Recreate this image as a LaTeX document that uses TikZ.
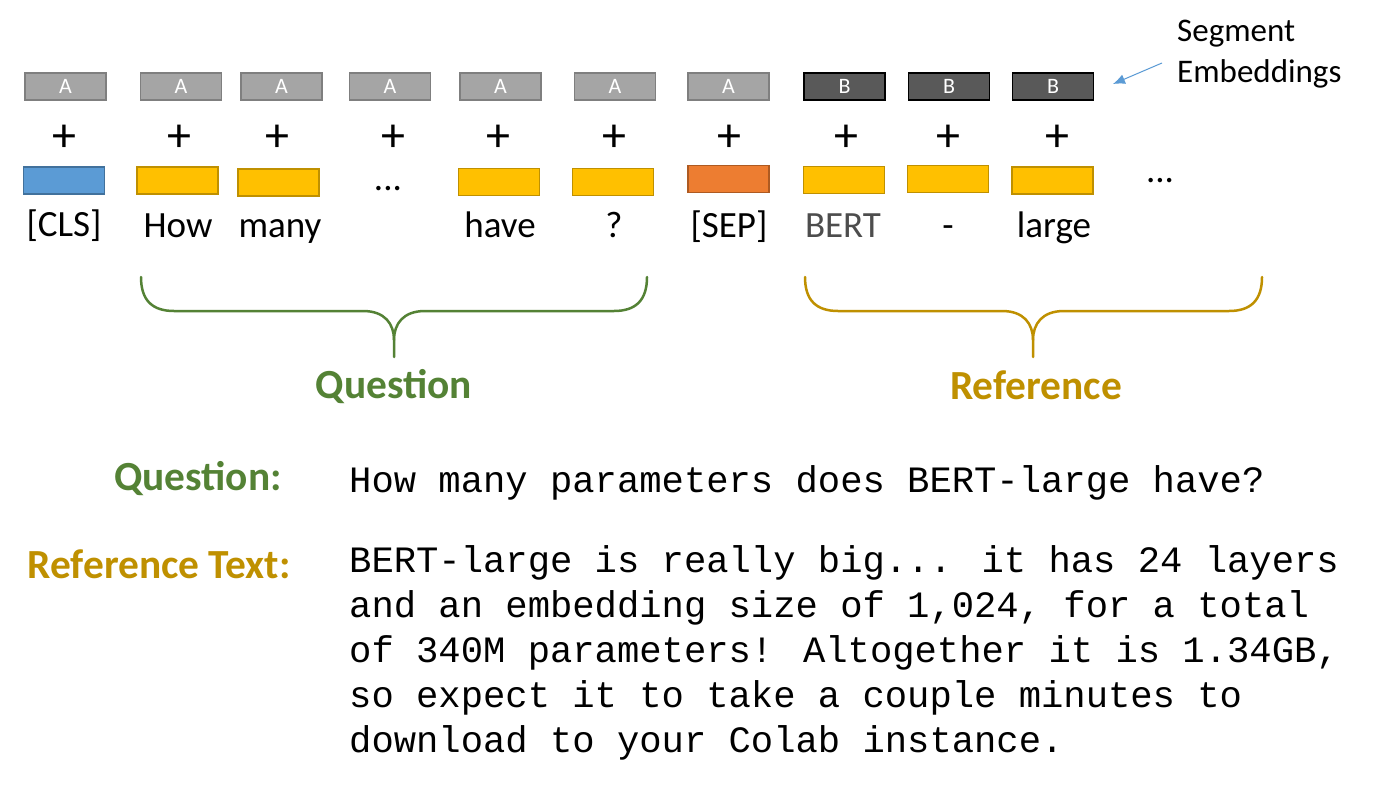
\documentclass[tikz,border=0pt]{standalone}
\usepackage{fontspec}
\setmainfont{Carlito}
\newfontfamily\monof{Liberation Mono}
\usetikzlibrary{arrows.meta}
\definecolor{segA}{HTML}{A5A5A5}
\definecolor{segAb}{HTML}{7F7F7F}
\definecolor{segB}{HTML}{595959}
\definecolor{clsF}{HTML}{5B9BD5}
\definecolor{clsB}{HTML}{41719C}
\definecolor{tokF}{HTML}{FFC000}
\definecolor{tokB}{HTML}{BF9000}
\definecolor{sepF}{HTML}{ED7D31}
\definecolor{sepB}{HTML}{AE5A21}
\definecolor{qgreen}{HTML}{548235}
\definecolor{rgold}{HTML}{BF9000}
\definecolor{bertgray}{HTML}{4D4D4D}
\tikzset{
  box/.style={minimum width=81bp, minimum height=27bp, inner sep=0pt, line width=1.3bp},
  sega/.style={box, fill=segA, draw=segAb, text=white, font=\fontsize{22bp}{26bp}\selectfont},
  segb/.style={box, fill=segB, draw=black, text=white, font=\fontsize{22bp}{26bp}\selectfont},
  tokc/.style={box, fill=clsF, draw=clsB},
  toky/.style={box, fill=tokF, draw=tokB},
  toks/.style={box, fill=sepF, draw=sepB},
  plussign/.style={inner sep=0pt, font=\fontsize{48bp}{56bp}\selectfont},
  word/.style={anchor=base, inner sep=0pt, font=\fontsize{37bp}{44bp}\selectfont},
  bigbold/.style={anchor=base, inner sep=0pt, font=\fontsize{41.4bp}{48bp}\selectfont\bfseries},
  mono/.style={anchor=base west, inner sep=0pt, font=\monof\fontsize{37.2bp}{45bp}\selectfont},
  bracegreen/.style={draw=qgreen, line width=2.5bp},
  bracegold/.style={draw=rgold, line width=2.5bp},
}
\begin{document}
\begin{tikzpicture}[x=1bp, y=-1bp]
\path[fill=white] (0,0) rectangle (1378,789);
\useasboundingbox (0,0) rectangle (1378,789);

% segment embeddings
\node[sega] (s1) at (65.5,86.5) {A};
\node[sega] (s2) at (181,86.5) {A};
\node[sega] (s3) at (281.5,86.5) {A};
\node[sega] (s4) at (390,86.5) {A};
\node[sega] (s5) at (500.5,86.5) {A};
\node[sega] (s6) at (615,86.5) {A};
\node[sega] (s7) at (728.5,86.5) {A};
\node[segb] (s8) at (844.5,86.5) {B};
\node[segb] (s9) at (949,86.5) {B};
\node[segb] (s10) at (1053,86.5) {B};

% plus signs
\foreach \i/\x in {1/64,2/179,3/277,4/393,5/498,6/614,7/729,8/846,9/948,10/1057}{
  \node[plussign] (p\i) at (\x,138) {+};
}

% token embeddings
\node[tokc] (t1) at (64,180.5) {};
\node[toky] (t2) at (177.5,180.5) {};
\node[toky] (t3) at (278.5,182.5) {};
\node[toky] (t5) at (499,182) {};
\node[toky] (t6) at (613,182) {};
\node[toks] (t7) at (728.5,179) {};
\node[toky] (t8) at (844,180) {};
\node[toky] (t9) at (948,179) {};
\node[toky] (t10) at (1052.5,180.5) {};
\node[word] (d1) at (388,190) {...};
\node[word] (d2) at (1160,182) {...};

% words
\node[word] (w1) at (64,236) {[CLS]};
\node[word] (w2) at (178,237) {How};
\node[word] (w3) at (280,237) {many};
\node[word] (w5) at (500,237) {have};
\node[word] (w6) at (614,237) {?};
\node[word] (w7) at (729,237) {[SEP]};
\node[word, text=bertgray] (w8) at (843,237) {BERT};
\node[word] (w9) at (948,237) {-};
\node[word] (w10) at (1054,237) {large};

% segment embeddings label
\node[anchor=base west, inner sep=0pt, font=\fontsize{33bp}{38bp}\selectfont] (seg1) at (1177,42) {Segment};
\node[anchor=base west, inner sep=0pt, font=\fontsize{33bp}{38bp}\selectfont] (seg2) at (1177,82) {Embeddings};
\coordinate (arrS) at (1162,63);
\coordinate (arrE) at (1113,84);
\draw[draw=clsF, line width=1bp, -{Latex[length=12bp,width=10bp]}] (arrS) -- (arrE);

% braces
\draw[bracegreen, line cap=round] (141,277) .. controls (141,300) and (152,311) .. (174,311)
  -- (363,311) .. controls (385,311) and (394,324) .. (394,340) -- (394,357);
\draw[bracegreen, line cap=round] (394,340) .. controls (394,324) and (403,311) .. (425,311)
  -- (614,311) .. controls (636,311) and (647,300) .. (647,277);
\draw[bracegold, line cap=round] (805,277) .. controls (805,300) and (816,311) .. (838,311)
  -- (1002,311) .. controls (1024,311) and (1033,324) .. (1033,340) -- (1033,357);
\draw[bracegold, line cap=round] (1033,340) .. controls (1033,324) and (1042,311) .. (1064,311)
  -- (1229,311) .. controls (1251,311) and (1262,300) .. (1262,277);
\node[bigbold, text=qgreen] (qlab) at (394,398) {Question};
\node[bigbold, text=rgold] (rlab) at (1036,399) {Reference};

% bottom text
\node[bigbold, anchor=base east, text=qgreen] (qhead) at (282,490) {Question:};
\node[bigbold, anchor=base east, text=rgold] (rhead) at (291,578) {Reference Text:};
\node[mono] (qtext) at (349,492) {How many parameters does BERT-large have?};
\node[mono] (r1) at (349,572) {BERT-large is really big... it has 24 layers};
\node[mono] (r2) at (349,617) {and an embedding size of 1,024, for a total};
\node[mono] (r3) at (349,662) {of 340M parameters! Altogether it is 1.34GB,};
\node[mono] (r4) at (349,707) {so expect it to take a couple minutes to};
\node[mono] (r5) at (349,752) {download to your Colab instance.};
\end{tikzpicture}
\end{document}
